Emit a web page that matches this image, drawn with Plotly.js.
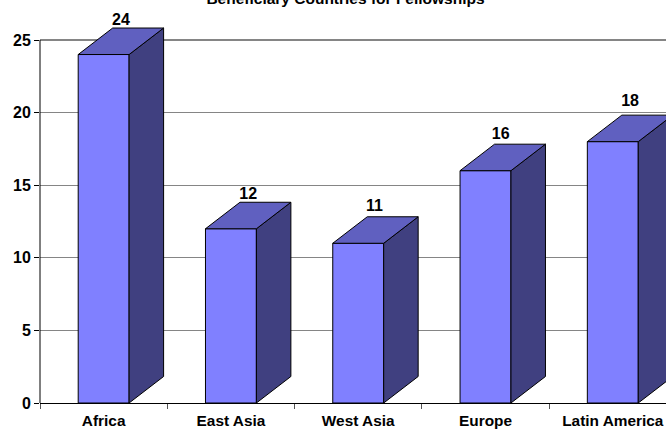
<!DOCTYPE html>
<html>
<head>
<meta charset="utf-8">
<script src="https://cdn.plot.ly/plotly-3.0.1.min.js"></script>
<style>html,body{margin:0;padding:0;background:#fff;overflow:hidden}</style>
</head>
<body>
<div id="chart" style="width:666px;height:433px"></div>
<script>
var categories = ["Africa", "East Asia", "West Asia", "Europe", "Latin America"];
var values = [24, 12, 11, 16, 18];
var yTicks = [0, 5, 10, 15, 20, 25];

var FONT = '"Liberation Sans", Arial, sans-serif';
var halfWidth = 0.2, depthX = 0.271, depthY = 1.825;
var xRange = [-0.5, 4.418];
var yTop = 393 / 14.52;
var labelNudgeX = [0, 0, -0.008, -0.016, 0];
var labelNudgeY = [-0.07, -0.07, 0.14, 0.07, 0.35];

var topX = [], topY = [], sideX = [], sideY = [], labelX = [], labelY = [], labelText = [];
values.forEach(function (v, i) {
  var r = i + halfWidth, l = i - halfWidth;
  topX.push(l, r, r + depthX, l + depthX, l, null);
  topY.push(v, v, v + depthY, v + depthY, v, null);
  sideX.push(r, r + depthX, r + depthX, r, r, null);
  sideY.push(0, depthY, v + depthY, v, 0, null);
  labelX.push(i + depthX / 2 + labelNudgeX[i]);
  labelY.push(v + depthY + labelNudgeY[i]);
  labelText.push(String(v));
});

var traces = [
  {type: 'bar', x: categories, y: values, width: 0.4, hoverinfo: 'skip',
   marker: {color: '#8080FF', line: {color: '#000', width: 1}}},
  {type: 'scatter', mode: 'lines', x: sideX, y: sideY, xaxis: 'x2', fill: 'toself', fillcolor: '#404080',
   line: {color: '#000', width: 1}, hoverinfo: 'skip'},
  {type: 'scatter', mode: 'lines', x: topX, y: topY, xaxis: 'x2', fill: 'toself', fillcolor: '#6060C0',
   line: {color: '#000', width: 1}, hoverinfo: 'skip'},
  {type: 'scatter', mode: 'text', x: labelX, y: labelY, text: labelText, xaxis: 'x2', textposition: 'top center',
   textfont: {family: FONT, size: 16, color: '#000', weight: 700}, cliponaxis: false, hoverinfo: 'skip'}
];

var layout = {
  width: 666, height: 433,
  margin: {l: 40, r: 0, t: 10, b: 30, pad: 0},
  paper_bgcolor: '#fff', plot_bgcolor: '#fff',
  showlegend: false,
  title: {text: '<b>Beneficiary Countries for Fellowships</b>', font: {family: FONT, size: 15.5, color: '#000'},
          x: 345.5 / 666, xanchor: 'center', xref: 'container', y: 1, yanchor: 'bottom', yref: 'container',
          pad: {b: -4}, automargin: false},
  shapes: [{type: 'line', xref: 'x domain', x0: 0, x1: 0, yref: 'y', y0: 0, y1: yTicks[yTicks.length - 1],
            line: {color: '#000', width: 1}, layer: 'above'}],
  xaxis: {type: 'category', categoryorder: 'array', categoryarray: categories, range: xRange,
          tickson: 'boundaries', ticks: 'outside', ticklen: 5, tickcolor: '#555', tickwidth: 1,
          ticklabelstandoff: 4,
          showline: true, linecolor: '#000', linewidth: 1, showgrid: false, zeroline: false,
          tickfont: {family: FONT, size: 15.4, color: '#000', weight: 700}},
  xaxis2: {overlaying: 'x', anchor: 'y', range: xRange, visible: false, type: 'linear'},
  yaxis: {range: [0, yTop], tickmode: 'array', tickvals: yTicks, ticktext: yTicks.map(String),
          ticks: 'outside', ticklen: 5, tickcolor: '#000', tickwidth: 1,
          showline: false, showgrid: true, gridcolor: '#858585', gridwidth: 1.4, zeroline: false,
          tickfont: {family: FONT, size: 16, color: '#000', weight: 700}}
};

Plotly.newPlot('chart', traces, layout, {displayModeBar: false, staticPlot: true});
</script>
</body>
</html>
